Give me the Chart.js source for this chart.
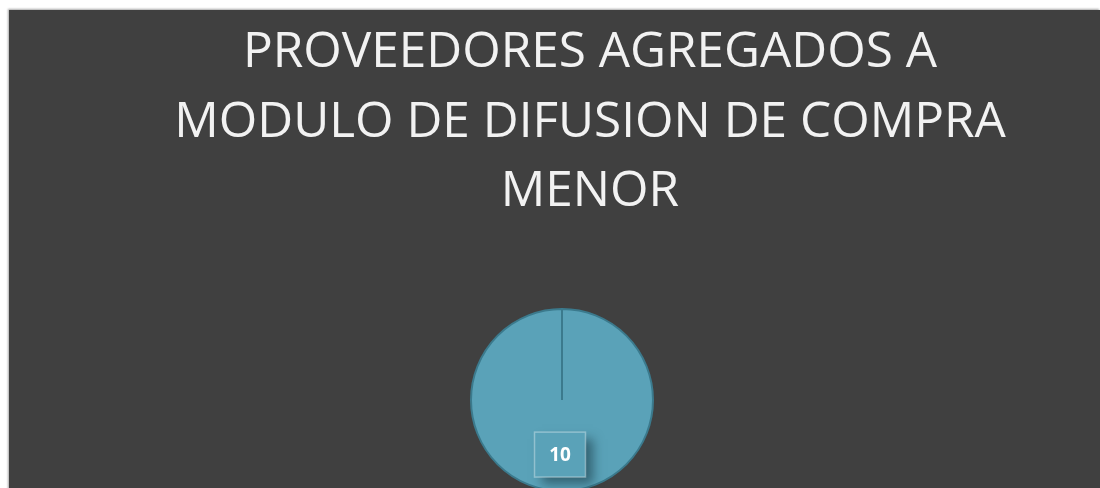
<!DOCTYPE html>
<html>
<head>
<meta charset="utf-8">
<script src="https://cdn.jsdelivr.net/npm/chart.js@4.4.1/dist/chart.umd.min.js"></script>
<style>
  html, body { margin: 0; padding: 0; background: #ffffff; overflow: hidden; }
  #wrap { position: absolute; left: 9px; top: 10px; width: 1091px; height: 500px; background: #404040; box-shadow: -1px -1px 2px rgba(0,0,0,0.35); }
  canvas { display: block; }
</style>
</head>
<body>
<div id="wrap"><canvas id="c"></canvas></div>
<script>
const titleLines = ["PROVEEDORES AGREGADOS A", "MODULO DE DIFUSION DE COMPRA", "MENOR"];
const categories = ["Proveedores agregados"];
const values = [10];

// Title drawn on the chart canvas (offset to the right of the pie, as in the original)
const offsetTitlePlugin = {
  id: 'offsetTitle',
  afterDraw(chart, args, opts) {
    const ctx = chart.ctx;
    ctx.save();
    ctx.font = opts.size + 'px ' + opts.family;
    ctx.fillStyle = opts.color;
    ctx.textAlign = 'center';
    ctx.textBaseline = 'alphabetic';
    opts.lines.forEach((line, i) => {
      ctx.fillText(line, opts.centerX, opts.firstBaseline + i * opts.lineGap);
    });
    ctx.restore();
  }
};

const labelBoxPlugin = {
  id: 'labelBox',
  afterDatasetsDraw(chart) {
    const ctx = chart.ctx;
    const meta = chart.getDatasetMeta(0);
    meta.data.forEach((arc, i) => {
      const p = arc.getProps(['x', 'y', 'startAngle', 'endAngle', 'outerRadius'], true);
      const mid = (p.startAngle + p.endAngle) / 2;
      const r = p.outerRadius * 0.6;
      const cx = p.x + Math.cos(mid) * r - 2;
      const cy = p.y + Math.sin(mid) * r;
      const text = String(chart.data.datasets[0].data[i]);
      const w = 51, h = 45;
      ctx.save();
      ctx.shadowColor = 'rgba(20,50,60,0.55)';
      ctx.shadowBlur = 10;
      ctx.shadowOffsetX = 7;
      ctx.shadowOffsetY = 7;
      ctx.fillStyle = '#5aa2b8';
      ctx.fillRect(cx - w / 2, cy - h / 2, w, h);
      ctx.restore();
      ctx.save();
      ctx.strokeStyle = 'rgba(255,255,255,0.35)';
      ctx.lineWidth = 1.5;
      ctx.strokeRect(cx - w / 2, cy - h / 2, w, h);
      ctx.font = 'bold 19px "Open Sans", sans-serif';
      ctx.fillStyle = '#ffffff';
      ctx.textAlign = 'center';
      ctx.textBaseline = 'middle';
      ctx.fillText(text, cx, cy + 1);
      ctx.restore();
    });
  }
};

new Chart(document.getElementById('c'), {
  type: 'pie',
  data: {
    labels: categories,
    datasets: [{
      data: values,
      backgroundColor: ['#5aa2b8'],
      borderColor: ['#3b7a8d'],
      borderWidth: 2
    }]
  },
  options: {
    responsive: true,
    maintainAspectRatio: false,
    animation: false,
    layout: { padding: { top: 298, bottom: 18, left: 15, right: 0 } },
    plugins: {
      legend: { display: false },
      tooltip: { enabled: false },
      title: { display: false },
      offsetTitle: {
        lines: titleLines,
        family: '"Open Sans", sans-serif',
        size: 49.5,
        color: '#f2f2f2',
        centerX: 581,
        firstBaseline: 57,
        lineGap: 69.5
      }
    }
  },
  plugins: [labelBoxPlugin, offsetTitlePlugin]
});
</script>
</body>
</html>
